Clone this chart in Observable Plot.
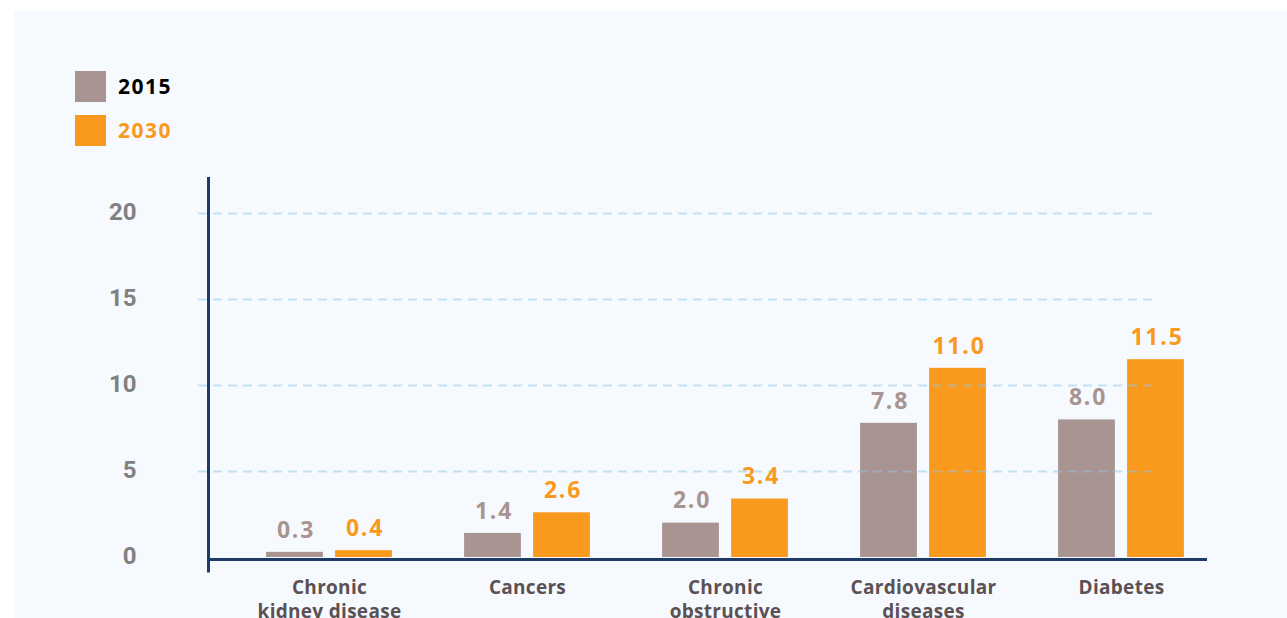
<!DOCTYPE html>
<html>
<head>
<meta charset="utf-8">
<script src="https://cdn.jsdelivr.net/npm/d3@7"></script>
<script src="https://cdn.jsdelivr.net/npm/@observablehq/plot@0.6"></script>
<style>
  html, body { margin: 0; padding: 0; background: #ffffff; overflow: hidden; }
  #wrap { position: relative; width: 1287px; height: 618px; }
  #panel { position: absolute; left: 14px; top: 11px; width: 1273px; height: 607px; background: #f6fafe; }
  #chart { position: absolute; left: 0; top: 0; }
  #chart svg { background: transparent !important; }
  .legend { position: absolute; left: 75px; font-family: "Open Sans", sans-serif; font-weight: 700; font-size: 21px; letter-spacing: 1.5px; }
  .legend .item { position: absolute; left: 0; width: 200px; height: 31px; }
  .legend .sw { position: absolute; left: 0; top: 0; width: 31px; height: 31px; }
  .legend .lab { position: absolute; left: 43px; top: 0; line-height: 31px; }
  #chart g[fill="#a89491"] text, #chart g[fill="#f99a1f"] text { letter-spacing: 1.8px; }
  #chart g[fill="#5b5154"] text { letter-spacing: 0.3px; }
</style>
</head>
<body>
<div id="wrap">
  <div id="panel"></div>
  <div id="chart"></div>
  <div class="legend" id="legend"></div>
</div>
<script>
// ---- data ----
const categories = ["Chronic kidney disease", "Cancers", "Chronic obstructive pulmonary disease", "Cardiovascular diseases", "Diabetes"];
const categoryLabels = ["Chronic\nkidney disease", "Cancers", "Chronic\nobstructive\npulmonary disease", "Cardiovascular\ndiseases", "Diabetes"];
const values2015 = [0.3, 1.4, 2.0, 7.8, 8.0];
const values2030 = [0.4, 2.6, 3.4, 11.0, 11.5];
const seriesNames = ["2015", "2030"];
const yTicks = [0, 5, 10, 15, 20];
const yAxisExtent = [-0.9, 22.1];

// ---- style ----
const colors = {"2015": "#a89491", "2030": "#f99a1f"};
const legendText = {"2015": "#000000", "2030": "#f99a1f"};
const navy = "#1e3a66";
const W = 1287, H = 618;
const mLeft = 208, mRight = 80, mTop = 213, mBottom = 61;

const rows2015 = categories.map((c, i) => ({category: c, value: values2015[i]}));
const rows2030 = categories.map((c, i) => ({category: c, value: values2030[i]}));
const labelOf = Object.fromEntries(categories.map((c, i) => [c, categoryLabels[i]]));

const band = (1220 - 229) / categories.length;
const half = band / 2;
const gap = 6, barW = 57;

const chart = Plot.plot({
  width: W,
  height: H,
  marginLeft: mLeft,
  marginRight: mRight,
  marginTop: mTop,
  marginBottom: mBottom,
  style: {background: "transparent", overflow: "visible"},
  x: {domain: categories, range: [229, 1220], padding: 0, axis: null, label: null},
  y: {domain: [0, 20], axis: null, label: null},
  marks: [
    Plot.barY(rows2015, {x: "category", y: "value", fill: colors["2015"],
      insetLeft: half - gap - barW, insetRight: half + gap}),
    Plot.barY(rows2030, {x: "category", y: "value", fill: colors["2030"],
      insetLeft: half + gap, insetRight: half - gap - barW}),
    Plot.ruleY(yTicks.filter(d => d > 0), {stroke: "#8fc6ea", strokeOpacity: 0.5, strokeWidth: 2,
      strokeDasharray: "9,6", insetLeft: -10, insetRight: 52}),
    Plot.ruleY([0], {stroke: navy, strokeWidth: 3, dy: 2}),
    Plot.ruleX([0], {x: null, y1: () => yAxisExtent[0], y2: () => yAxisExtent[1], stroke: navy, strokeWidth: 3,
      dx: mLeft - (mLeft + W - mRight) / 2}),
    Plot.axisY({ticks: yTicks, tickSize: 0, tickPadding: 72, fontSize: 24, fontWeight: "bold", label: null,
      fill: "#808080", fontFamily: "Roboto, sans-serif", tickFormat: d => String(d), dy: -1}),
    Plot.text(rows2015, {x: "category", y: "value", text: d => d.value.toFixed(1), dx: -(gap + barW / 2) + 1, dy: -22,
      fill: colors["2015"], fontSize: 23, fontWeight: "bold", fontFamily: "Open Sans, sans-serif"}),
    Plot.text(rows2030, {x: "category", y: "value", text: d => d.value.toFixed(1), dx: gap + barW / 2 + 1, dy: -22,
      fill: colors["2030"], fontSize: 23, fontWeight: "bold", fontFamily: "Open Sans, sans-serif"}),
    Plot.text(categories, {x: d => d, text: d => labelOf[d], frameAnchor: "bottom", lineAnchor: "top", dy: 20,
      lineHeight: 1.25, fontSize: 19, fontWeight: "bold", fill: "#5b5154", fontFamily: "Open Sans, sans-serif"})
  ]
});
document.getElementById("chart").appendChild(chart);

// legend
const legend = document.getElementById("legend");
legend.style.top = "71px";
seriesNames.forEach((s, i) => {
  const item = document.createElement("div");
  item.className = "item";
  item.style.top = (i * 44) + "px";
  item.innerHTML = `<div class="sw" style="background:${colors[s]}"></div><div class="lab" style="color:${legendText[s]}">${s}</div>`;
  legend.appendChild(item);
});
</script>
</body>
</html>
